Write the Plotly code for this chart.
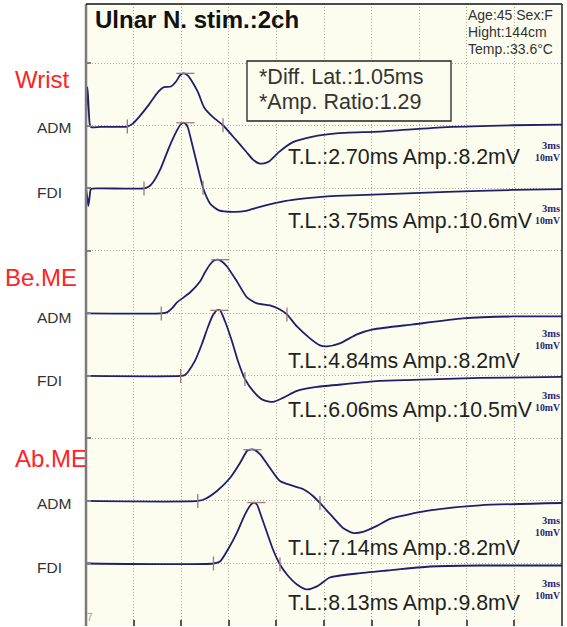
import numpy as np
import plotly.graph_objects as go

# ---------------- data (time in ms, amplitude in mV relative to baseline) ----------------
wrist_adm_t = [0.095, 0.15, 0.19, 0.26, 0.33, 0.42, 0.98, 2.70, 3.06, 3.43, 4.06, 4.63, 5.01, 5.45, 5.77,
               6.02, 6.21, 6.46, 6.71, 7.15, 7.53, 8.10, 8.73, 9.36, 10.18, 10.62, 11.0, 11.31, 11.63,
               12.25, 13.14, 14.40, 15.85, 18.62, 22.84, 27.0, 30.09]
wrist_adm_v = [0.3, 5.0, 6.2, 3.0, 0.3, -0.2, -0.15, -0.1, 0.4, 1.4, 3.4, 5.4, 6.2, 6.3, 7.1,
               8.1, 8.4, 8.2, 7.4, 5.4, 3.0, 1.4, 0.1, -1.7, -4.1, -5.4, -6.0, -6.0, -5.7,
               -4.2, -2.6, -1.7, -1.2, -0.9, -0.2, 0.1, 0.2]

wrist_fdi_t = [0.095, 0.18, 0.24, 0.32, 0.41, 0.98, 3.75, 4.06, 4.32, 4.82, 5.32, 5.77, 6.02, 6.21, 6.39,
               6.52, 6.84, 7.15, 7.47, 7.72, 7.97, 8.47, 9.36, 10.18, 11.0, 12.70, 14.77, 15.85,
               18.62, 22.84, 27.0, 30.09]
wrist_fdi_v = [0.0, -1.5, -2.8, -1.4, -0.1, 0.0, 0.0, 0.3, 1.0, 3.3, 6.5, 9.0, 10.1, 10.5, 10.3,
               9.7, 6.5, 3.3, 0.1, -1.5, -2.6, -3.5, -3.75, -3.6, -3.0, -2.0, -1.4, -1.2,
               -0.95, -0.55, -0.25, -0.1]

beme_adm_t = [0.095, 4.84, 5.2, 5.51, 5.83, 6.65, 7.28, 7.59, 7.91, 8.16, 8.41, 8.66, 8.98, 9.61, 10.24,
              10.87, 11.69, 12.32, 12.76, 13.39, 14.21, 14.84, 15.28, 16.1, 17.17, 18.18, 20.7,
              23.85, 27.0, 30.09]
beme_adm_v = [0.0, 0.0, 0.16, 0.8, 1.76, 3.35, 5.11, 6.55, 7.83, 8.47, 8.6, 8.31, 7.51, 5.11, 2.56,
              1.6, 1.28, 0.64, -0.16, -2.08, -3.99, -5.11, -5.27, -4.79, -3.35, -2.56, -1.76,
              -0.8, -0.48, -0.48]

beme_fdi_t = [0.095, 6.06, 6.33, 6.52, 6.96, 7.4, 7.78, 8.10, 8.35, 8.54, 8.85, 9.29, 9.67, 10.11, 10.62,
              11.25, 11.88, 12.51, 13.39, 14.65, 16.54, 18.62, 20.7, 24.92, 30.09]
beme_fdi_v = [0.0, 0.0, 0.16, 0.64, 2.4, 5.11, 7.83, 9.74, 10.5, 10.5, 8.79, 5.59, 2.4, -0.48, -2.4,
              -3.83, -4.15, -3.51, -2.4, -1.76, -1.28, -0.8, -0.64, -0.32, -0.16]

abme_adm_t = [0.095, 7.14, 7.59, 8.35, 9.17, 9.8, 10.24, 10.43, 10.68, 11.06, 11.69, 12.32, 12.95, 13.77,
              14.4, 14.84, 15.47, 16.29, 16.92, 17.55, 18.43, 19.25, 20.7, 21.77, 24.92, 30.09]
abme_adm_v = [0.0, 0.0, 0.32, 1.6, 3.67, 6.07, 7.99, 8.2, 8.2, 7.51, 5.27, 3.19, 2.56, 1.92,
              0.8, -0.32, -2.08, -4.31, -5.11, -4.95, -3.99, -2.85, -2.0, -1.5, -0.7, -0.32]

abme_fdi_t = [0.095, 8.13, 8.54, 9.04, 9.61, 10.11, 10.49, 10.68, 10.87, 11.06, 11.5, 11.88, 12.32, 12.76,
              13.39, 14.02, 14.65, 15.47, 17.17, 19.06, 21.77, 24.92, 30.09]
abme_fdi_v = [0.0, 0.0, 0.32, 2.24, 4.95, 7.83, 9.43, 9.75, 9.43, 8.15, 4.95, 2.24, -0.16, -1.76,
              -3.35, -4.15, -3.67, -2.24, -1.6, -1.12, -0.48, -0.32, -0.32]

site_labels = ["Wrist", "Be.ME", "Ab.ME"]
muscle_labels = ["ADM", "FDI", "ADM", "FDI", "ADM", "FDI"]
latencies = [2.70, 3.75, 4.84, 6.06, 7.14, 8.13]
amplitudes = [8.2, 10.6, 8.2, 10.5, 8.2, 9.8]
neg_marker_t = [8.73, 7.47, 12.76, 10.11, 14.84, 12.32]
diff_lat = 1.05
amp_ratio = 1.29
info_lines = ["Age:45 Sex:F", "Hight:144cm", "Temp.:33.6°C"]
title_text = "Ulnar N. stim.:2ch"
scale_text = ["3ms", "10mV"]

traces_t = [wrist_adm_t, wrist_fdi_t, beme_adm_t, beme_fdi_t, abme_adm_t, abme_fdi_t]
traces_v = [wrist_adm_v, wrist_fdi_v, beme_adm_v, beme_fdi_v, abme_adm_v, abme_fdi_v]
baselines = [80, 70, 50, 40, 20, 10]   # vertical offsets (mV) of each trace, 10 mV/div

# ---------------- layout helpers ----------------
W, H = 567, 627
ML, MR, MT, MB = 86, 5, 4, 1
PW, PH = W - ML - MR, H - MT - MB


def xp(px):
    return (px - ML) / PW


def yp(py):
    return (H - MB - py) / PH


TRACE_COL = "#1f1f6b"
MARK_COL = "#a07878"
BG = "#FDFDEF"
FONT = "Liberation Sans, Arial, sans-serif"

fig = go.Figure()

for t, v, b in zip(traces_t, traces_v, baselines):
    fig.add_trace(go.Scatter(x=t, y=[b + a for a in v], mode="lines",
                             line=dict(color=TRACE_COL, width=1.8, shape="spline", smoothing=0.6),
                             hoverinfo="skip", showlegend=False))

# markers: onset, zero-crossing (vertical ticks) and peak (horizontal tick)
vx, vy, hx, hy = [], [], [], []
for t, v, b, lat, nt in zip(traces_t, traces_v, baselines, latencies, neg_marker_t):
    vx += [lat, nt]
    vy += [b + float(np.interp(lat, t, v)), b + float(np.interp(nt, t, v))]
    k = int(np.argmax(v[2:])) + 2
    hx.append(t[k] + 0.15)
    hy.append(b + v[k])
fig.add_trace(go.Scatter(x=vx, y=vy, mode="markers",
                         marker=dict(symbol="line-ns", size=10, line=dict(color=MARK_COL, width=1.3)),
                         hoverinfo="skip", showlegend=False))
fig.add_trace(go.Scatter(x=hx, y=hy, mode="markers",
                         marker=dict(symbol="line-ew", size=13, line=dict(color=MARK_COL, width=1.3)),
                         hoverinfo="skip", showlegend=False))

ann = []
# title
ann.append(dict(xref="paper", yref="paper", x=xp(93), y=yp(20), xanchor="left", yanchor="middle",
                text="<b>" + title_text + "</b>", showarrow=False,
                font=dict(family=FONT, size=24, color="#111111")))
# info lines
for txt, py in zip(info_lines, [15, 32, 49]):
    ann.append(dict(xref="paper", yref="paper", x=xp(466), y=yp(py), xanchor="left", yanchor="middle",
                    text=txt, showarrow=False, font=dict(family=FONT, size=14, color="#333333")))
# box text
ann.append(dict(xref="paper", yref="paper", x=xp(257), y=yp(77), xanchor="left", yanchor="middle",
                text="*Diff. Lat.:%.2fms" % diff_lat, showarrow=False,
                font=dict(family=FONT, size=21.5, color="#333333")))
ann.append(dict(xref="paper", yref="paper", x=xp(257), y=yp(102), xanchor="left", yanchor="middle",
                text="*Amp. Ratio:%.2f" % amp_ratio, showarrow=False,
                font=dict(family=FONT, size=21.5, color="#333333")))
# T.L. texts
tl_py = [157, 221, 361, 410, 548, 603]
for lat, amp, py in zip(latencies, amplitudes, tl_py):
    ann.append(dict(xref="paper", yref="paper", x=xp(286), y=yp(py), xanchor="left", yanchor="middle",
                    text="T.L.:%.2fms Amp.:%.1fmV" % (lat, amp), showarrow=False,
                    font=dict(family=FONT, size=21.3, color="#222222")))
# scale texts
for b in baselines:
    py = H - MB - b * PH / 99.5
    for txt, dy, fs in zip(scale_text, [20, 32], [10.5, 9.8]):
        ann.append(dict(xref="paper", yref="paper", x=1.0, y=yp(py + dy), xanchor="right", yanchor="middle",
                        text="<b>" + txt + "</b>", showarrow=False,
                        font=dict(family="Liberation Serif, Times New Roman, serif", size=fs, color="#1f1f7a")))
# site labels
for txt, px, py in zip(site_labels, [13, 3, 13], [79, 277, 458]):
    ann.append(dict(xref="paper", yref="paper", x=xp(px), y=yp(py), xanchor="left", yanchor="middle",
                    text=txt, showarrow=False, font=dict(family=FONT, size=24, color="#ff2424")))
# muscle labels
for txt, py in zip(muscle_labels, [127, 192, 317, 380, 503, 567]):
    ann.append(dict(xref="paper", yref="paper", x=xp(35), y=yp(py), xanchor="left", yanchor="middle",
                    text=txt, showarrow=False, font=dict(family=FONT, size=15.5, color="#333333")))
# tiny corner glyph
ann.append(dict(xref="paper", yref="paper", x=xp(85), y=yp(617), xanchor="left", yanchor="middle",
                text="7", showarrow=False, font=dict(family=FONT, size=10, color="#9a9a9a")))

shapes = [
    dict(type="rect", xref="paper", yref="paper", x0=xp(247), x1=xp(451), y0=yp(121), y1=yp(61),
         line=dict(color="#222222", width=1.3), fillcolor=BG, layer="above"),
    dict(type="line", xref="paper", yref="paper", x0=0, x1=0, y0=0, y1=1,
         line=dict(color="#7a7a7a", width=2.5)),
    dict(type="line", xref="paper", yref="paper", x0=0, x1=1, y0=1, y1=1,
         line=dict(color="#111111", width=1.5)),
    dict(type="line", xref="paper", yref="paper", x0=1, x1=1, y0=0, y1=1,
         line=dict(color="#222222", width=1.5)),
]

fig.update_layout(
    width=W, height=H,
    margin=dict(l=ML, r=MR, t=MT, b=MB, pad=0),
    paper_bgcolor="white", plot_bgcolor=BG,
    annotations=ann, shapes=shapes, showlegend=False,
    xaxis=dict(range=[0.095, 30.095], tick0=0.095, dtick=3, showgrid=True, gridcolor="#a9a99c",
               griddash="1px,2px", gridwidth=1, zeroline=False, showticklabels=False,
               ticks="inside", ticklen=6, tickcolor="#555555", tickwidth=1.5, showline=False, fixedrange=True),
    yaxis=dict(range=[0, 99.5], tick0=0, dtick=10, showgrid=True, gridcolor="#a9a99c",
               griddash="1px,2px", gridwidth=1, zeroline=False, showticklabels=False,
               ticks="inside", ticklen=5, tickcolor="#808080", tickwidth=1.5, showline=False, fixedrange=True),
)

fig.write_html("out.html", config={"displayModeBar": False},
               post_script="document.body.style.margin='0px';document.body.style.overflow='hidden';")
